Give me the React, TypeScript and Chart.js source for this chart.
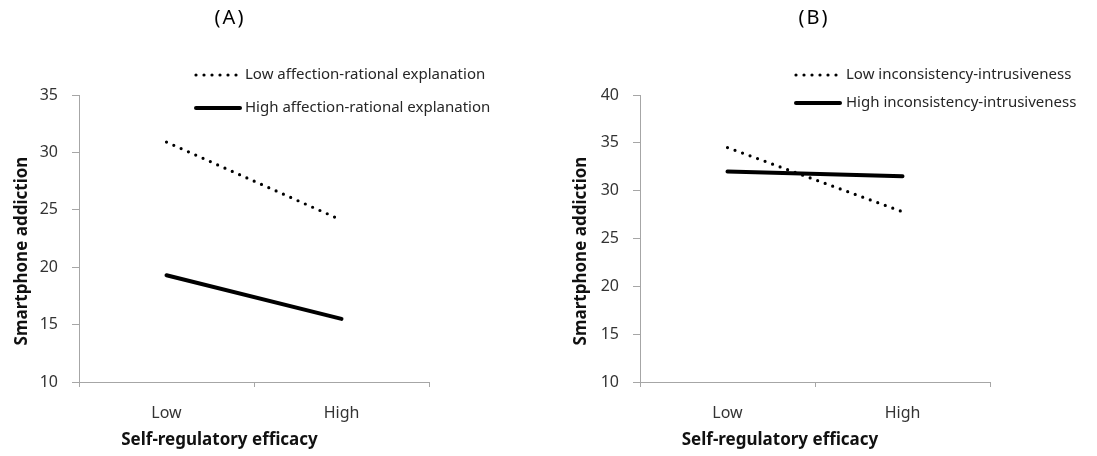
import React, { useEffect, useRef } from 'react';
import { Chart, registerables } from 'chart.js';

Chart.register(...registerables);

// ---- data ----
const categories = ['Low', 'High'];
const lowAffectionRational = [30.9, 24.1];
const highAffectionRational = [19.3, 15.5];
const lowInconsistency = [34.5, 27.8];
const highInconsistency = [32.0, 31.5];
const yTicksA = [10, 15, 20, 25, 30, 35];
const yTicksB = [10, 15, 20, 25, 30, 35, 40];

const FONT = '"Noto Sans", "Open Sans", "DejaVu Sans", sans-serif';
const AXIS = '#a6a6a6';
const TICK_TEXT = '#333333';

const panelText = {
  id: 'panelText',
  afterDraw(chart: any, _args: any, o: any) {
    const ctx = chart.ctx as CanvasRenderingContext2D;
    ctx.save();
    ctx.fillStyle = '#000';
    ctx.textAlign = 'center';
    ctx.textBaseline = 'middle';
    // panel title
    ctx.font = `20px ${FONT}`;
    (ctx as any).letterSpacing = '2px';
    ctx.fillText(o.title, o.titleX + 1, o.titleY);
    (ctx as any).letterSpacing = '0px';
    // axis titles
    ctx.fillStyle = '#111';
    ctx.font = `bold 17px ${FONT}`;
    ctx.fillText(o.xTitle, o.xTitleX, o.xTitleY);
    ctx.save();
    ctx.translate(o.yTitleX, o.yTitleY);
    ctx.rotate(-Math.PI / 2);
    ctx.fillText(o.yTitle, 0, 0);
    ctx.restore();
    // legend
    chart.data.datasets.forEach((ds: any, i: number) => {
      const y = o.legendYs[i];
      ctx.save();
      ctx.strokeStyle = ds.borderColor;
      ctx.lineWidth = ds.borderWidth;
      ctx.lineCap = 'round';
      ctx.setLineDash(ds.borderDash || []);
      ctx.beginPath();
      ctx.moveTo(o.legendX1, y);
      ctx.lineTo(o.legendX2[i], y);
      ctx.stroke();
      ctx.restore();
      ctx.fillStyle = '#262626';
      ctx.textAlign = 'left';
      ctx.font = `15px ${FONT}`;
      ctx.fillText(ds.label, o.legendTextX, y);
    });
    ctx.restore();
  },
};

function makeConfig(
  lowSeries: number[],
  highSeries: number[],
  lowLabel: string,
  highLabel: string,
  yTicks: number[],
  axisWidth: number,
  rightPad: number,
  textOpts: any
): any {
  return {
    type: 'line',
    data: {
      labels: categories,
      datasets: [
        {
          label: lowLabel,
          data: lowSeries,
          borderColor: '#000',
          borderWidth: 3.2,
          borderDash: [0, 8],
          borderCapStyle: 'round',
          pointRadius: 0,
          fill: false,
          tension: 0,
        },
        {
          label: highLabel,
          data: highSeries,
          borderColor: '#000',
          borderWidth: 4,
          borderCapStyle: 'round',
          pointRadius: 0,
          fill: false,
          tension: 0,
        },
      ],
    },
    options: {
      animation: false,
      responsive: false,
      devicePixelRatio: 1,
      layout: { padding: { left: 0, right: rightPad, top: 95, bottom: 0 } },
      scales: {
        x: {
          type: 'category',
          offset: true,
          grid: { offset: true, drawOnChartArea: false, drawTicks: true, tickLength: 5, color: AXIS },
          border: { color: AXIS, width: 1 },
          ticks: { color: TICK_TEXT, font: { family: FONT, size: 16 }, padding: 17, maxRotation: 0 },
          afterFit: (s: any) => {
            s.height = 74;
          },
        },
        y: {
          min: yTicks[0],
          max: yTicks[yTicks.length - 1],
          afterBuildTicks: (s: any) => {
            s.ticks = yTicks.map((v) => ({ value: v }));
          },
          grid: { drawOnChartArea: false, drawTicks: true, tickLength: 7, color: AXIS },
          border: { color: AXIS, width: 1 },
          ticks: { color: TICK_TEXT, font: { family: FONT, size: 16 }, padding: 14 },
          afterFit: (s: any) => {
            s.width = axisWidth;
          },
        },
      },
      plugins: {
        legend: { display: false },
        tooltip: { enabled: false },
        title: { display: false },
        panelText: textOpts,
      },
    },
    plugins: [panelText],
  };
}

function Panel(props: { config: any; width: number; left: number }) {
  const ref = useRef<HTMLCanvasElement | null>(null);
  useEffect(() => {
    if (!ref.current) return;
    const chart = new Chart(ref.current, props.config);
    return () => chart.destroy();
  }, []);
  return (
    <canvas
      ref={ref}
      width={props.width}
      height={456}
      style={{ position: 'absolute', left: props.left, top: 0, width: props.width, height: 456 }}
    />
  );
}

export default function App() {
  const configA = makeConfig(
    lowAffectionRational,
    highAffectionRational,
    'Low affection-rational explanation',
    'High affection-rational explanation',
    yTicksA,
    79,
    560 - 429,
    {
      title: '(A)',
      titleX: 229,
      titleY: 18,
      xTitle: 'Self-regulatory efficacy',
      xTitleX: 219.5,
      xTitleY: 440,
      yTitle: 'Smartphone addiction',
      yTitleX: 22,
      yTitleY: 251,
      legendX1: 196,
      legendX2: [238, 240],
      legendTextX: 245,
      legendYs: [75, 108],
    }
  );
  const configB = makeConfig(
    lowInconsistency,
    highInconsistency,
    'Low inconsistency-intrusiveness',
    'High inconsistency-intrusiveness',
    yTicksB,
    80,
    537 - 430,
    {
      title: '(B)',
      titleX: 253,
      titleY: 18,
      xTitle: 'Self-regulatory efficacy',
      xTitleX: 220,
      xTitleY: 440,
      yTitle: 'Smartphone addiction',
      yTitleX: 21,
      yTitleY: 251,
      legendX1: 236,
      legendX2: [278, 280],
      legendTextX: 286,
      legendYs: [75, 103],
    }
  );
  return (
    <div style={{ position: 'absolute', left: 0, top: 0, width: 1097, height: 456, background: '#fff' }}>
      <Panel config={configA} width={560} left={0} />
      <Panel config={configB} width={537} left={560} />
    </div>
  );
}
